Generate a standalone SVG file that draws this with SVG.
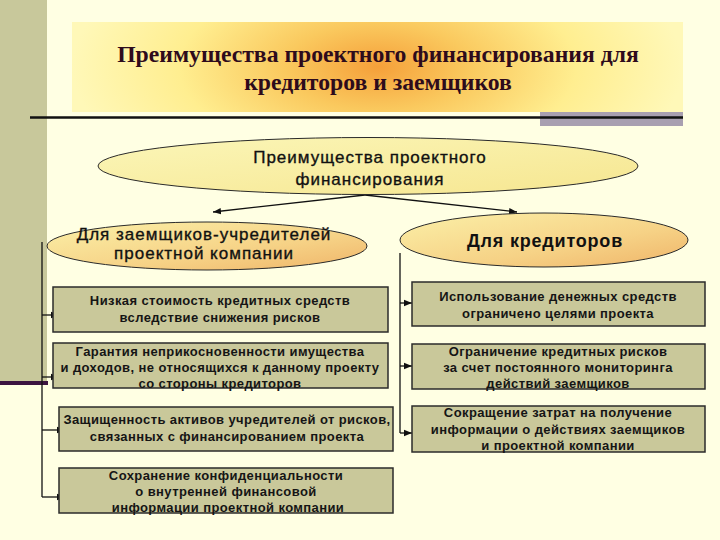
<svg xmlns="http://www.w3.org/2000/svg" width="720" height="540" viewBox="0 0 720 540">
<defs>
  <radialGradient id="titleGrad" cx="0.5" cy="0.5" r="0.5" gradientTransform="translate(0.5 0.5) scale(1 3.2) translate(-0.5 -0.5)" gradientUnits="objectBoundingBox">
    <stop offset="0" stop-color="#F5A03A"/>
    <stop offset="0.3" stop-color="#FAC95E"/>
    <stop offset="0.65" stop-color="#FFEE90"/>
    <stop offset="1" stop-color="#FFF8B8"/>
  </radialGradient>
  <linearGradient id="topEll" x1="0" y1="0" x2="1" y2="1">
    <stop offset="0" stop-color="#FBF6B8"/>
    <stop offset="1" stop-color="#F6E690"/>
  </linearGradient>
  <linearGradient id="subEll" x1="0" y1="0" x2="1" y2="1">
    <stop offset="0" stop-color="#FBF0A8"/>
    <stop offset="0.6" stop-color="#F6D286"/>
    <stop offset="1" stop-color="#EFB468"/>
  </linearGradient>
  <marker id="arr" viewBox="0 0 10 10" refX="10" refY="5" markerWidth="8" markerHeight="8" markerUnits="userSpaceOnUse" orient="auto">
    <path d="M0,1 L10,5 L0,9 z" fill="#111"/>
  </marker>
  <style>
    .bg{fill:#FFFFE3}
    .strip{fill:#C8C89B}
    .title{font-family:"Liberation Serif","Times New Roman",serif;font-weight:bold;font-size:23.7px;fill:#2E0B1C;text-anchor:middle}
    .ell{stroke:#2a2a2a;stroke-width:1}
    .ellTxt{font-family:"Liberation Sans",Arial,sans-serif;font-size:17px;letter-spacing:1px;fill:#111;stroke:#111;stroke-width:0.35;text-anchor:middle}
    .box{fill:#C9C89A;stroke:#2b2b2b;stroke-width:1.5}
    .boxTxt{font-family:"Liberation Sans",Arial,sans-serif;font-weight:bold;font-size:13px;letter-spacing:0.4px;fill:#151515;text-anchor:middle}
    .conn{fill:none;stroke:#111;stroke-width:1.3}
  </style>
</defs>

<rect class="bg" x="0" y="0" width="720" height="540"/>
<rect class="strip" x="0" y="0" width="47" height="383"/>
<rect x="0" y="381" width="48" height="4" fill="#3C1440"/>

<g id="title">
  <rect x="72" y="22" width="611" height="90" fill="url(#titleGrad)"/>
  <text class="title" x="378" y="62">Преимущества проектного финансирования для</text>
  <text class="title" x="378" y="90">кредиторов и заемщиков</text>
</g>
<rect x="540" y="112" width="143" height="14" fill="#A89FB0"/>
<line x1="30" y1="117.5" x2="683" y2="117.5" stroke="#111" stroke-width="2.5"/>

<g id="connectors">
  <path class="conn" d="M365,195 L213,212" marker-end="url(#arr)"/>
  <path class="conn" d="M365,195 L517,212" marker-end="url(#arr)"/>
  <path class="conn" d="M42,242 L42,497"/>
  <path class="conn" d="M42,315 L59,315" marker-end="url(#arr)"/>
  <path class="conn" d="M42,377 L59,377" marker-end="url(#arr)"/>
  <path class="conn" d="M42,430 L65,430" marker-end="url(#arr)"/>
  <path class="conn" d="M42,497 L65,497" marker-end="url(#arr)"/>
  <path class="conn" d="M400,253 L400,433"/>
  <path class="conn" d="M400,303 L412,303" marker-end="url(#arr)"/>
  <path class="conn" d="M400,366 L412,366" marker-end="url(#arr)"/>
  <path class="conn" d="M400,433 L412,433" marker-end="url(#arr)"/>
</g>

<g id="root">
  <ellipse class="ell" cx="368" cy="166" rx="270" ry="28.5" fill="url(#topEll)"/>
  <text class="ellTxt" x="370" y="163">Преимущества проектного</text>
  <text class="ellTxt" x="370" y="185">финансирования</text>
</g>

<g id="borrowers">
  <ellipse class="ell" cx="207" cy="246" rx="160" ry="24" fill="url(#subEll)"/>
  <text class="ellTxt" x="204" y="240">Для заемщиков-учредителей</text>
  <text class="ellTxt" x="204" y="259">проектной компании</text>
</g>

<g id="creditors">
  <ellipse class="ell" cx="544" cy="240" rx="144" ry="27" fill="url(#subEll)"/>
  <text class="ellTxt" x="545" y="247" style="font-size:18px;font-weight:bold;letter-spacing:0.8px;stroke-width:0">Для кредиторов</text>
</g>

<g id="b1">
  <rect class="box" x="53" y="287" width="335" height="45"/>
  <text class="boxTxt" x="220" y="305">Низкая стоимость кредитных средств</text>
  <text class="boxTxt" x="220" y="322">вследствие снижения рисков</text>
</g>
<g id="b2">
  <rect class="box" x="53" y="343" width="335" height="45"/>
  <text class="boxTxt" x="220" y="356">Гарантия неприкосновенности имущества</text>
  <text class="boxTxt" x="220" y="372">и доходов, не относящихся к данному проекту</text>
  <text class="boxTxt" x="220" y="388">со стороны кредиторов</text>
</g>
<g id="b3">
  <rect class="box" x="59" y="407" width="334" height="44"/>
  <text class="boxTxt" x="227" y="424">Защищенность активов учредителей от рисков,</text>
  <text class="boxTxt" x="227" y="441">связанных с финансированием проекта</text>
</g>
<g id="b4">
  <rect class="box" x="59" y="468" width="334" height="45"/>
  <text class="boxTxt" x="226" y="480">Сохранение конфиденциальности</text>
  <text class="boxTxt" x="226" y="496">о внутренней финансовой</text>
  <text class="boxTxt" x="228" y="512">информации проектной компании</text>
</g>

<g id="c1">
  <rect class="box" x="412" y="282" width="293" height="44"/>
  <text class="boxTxt" x="558" y="301">Использование денежных средств</text>
  <text class="boxTxt" x="558" y="318">ограничено целями проекта</text>
</g>
<g id="c2">
  <rect class="box" x="412" y="344" width="293" height="45"/>
  <text class="boxTxt" x="558" y="356">Ограничение кредитных рисков</text>
  <text class="boxTxt" x="558" y="372">за счет постоянного мониторинга</text>
  <text class="boxTxt" x="558" y="388">действий заемщиков</text>
</g>
<g id="c3">
  <rect class="box" x="412" y="406" width="293" height="46"/>
  <text class="boxTxt" x="558" y="417">Сокращение затрат на получение</text>
  <text class="boxTxt" x="558" y="434">информации о действиях заемщиков</text>
  <text class="boxTxt" x="558" y="450">и проектной компании</text>
</g>
</svg>
